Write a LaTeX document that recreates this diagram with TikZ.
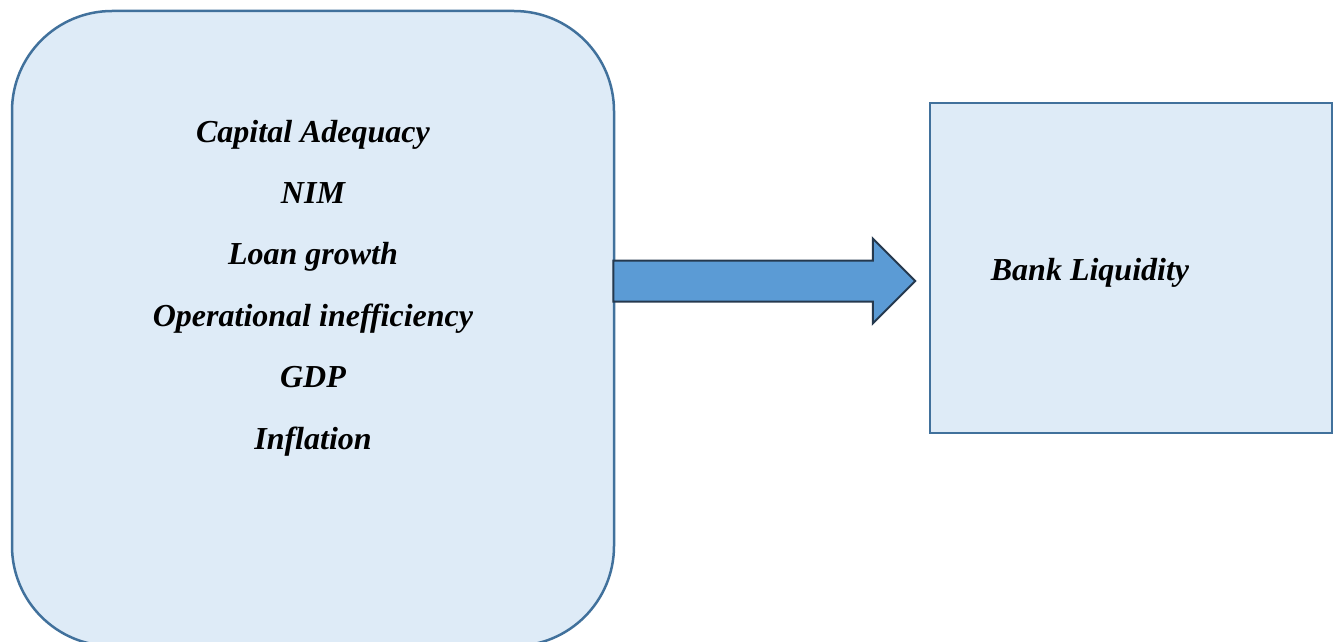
\documentclass[tikz,border=0pt]{standalone}
\usepackage{fontspec}
\setmainfont{Liberation Serif}
\usepackage{xcolor}
\usepackage{tikz}
\usetikzlibrary{shapes.arrows}
\definecolor{pboxfill}{HTML}{DEEBF7}
\definecolor{pboxline}{HTML}{41719C}
\definecolor{parrfill}{HTML}{5B9BD5}
\definecolor{parrline}{RGB}{37,57,78}

\begin{document}
\begin{tikzpicture}[x=1pt,y=-1pt,
  box/.style={draw=pboxline,fill=pboxfill,line width=2.5pt,inner sep=0pt},
  lbl/.style={font=\fontsize{32}{61.4}\selectfont\bfseries\itshape,align=center,inner sep=0pt},
  fatarr/.style={single arrow,draw=parrline,fill=parrfill,line width=2pt,single arrow head extend=22pt,
    minimum height=302pt,inner xsep=0pt,inner ysep=19.5pt}]
\clip (0,0) rectangle (1338,642);
\node[box,rounded corners=100pt,minimum width=602pt,minimum height=635pt] (factors) at (313,328.5) {};
\node[box,minimum width=402pt,minimum height=330pt] (liq) at (1131,268) {};
\node[lbl,anchor=base] (vars) at (313,449) {Capital Adequacy\\NIM\\Loan growth\\Operational inefficiency\\GDP\\Inflation};
\node[lbl,anchor=base] (liqtext) at (1090,280) {Bank Liquidity};
\node[fatarr] (arr) at (754,281) {};
\end{tikzpicture}
\end{document}
